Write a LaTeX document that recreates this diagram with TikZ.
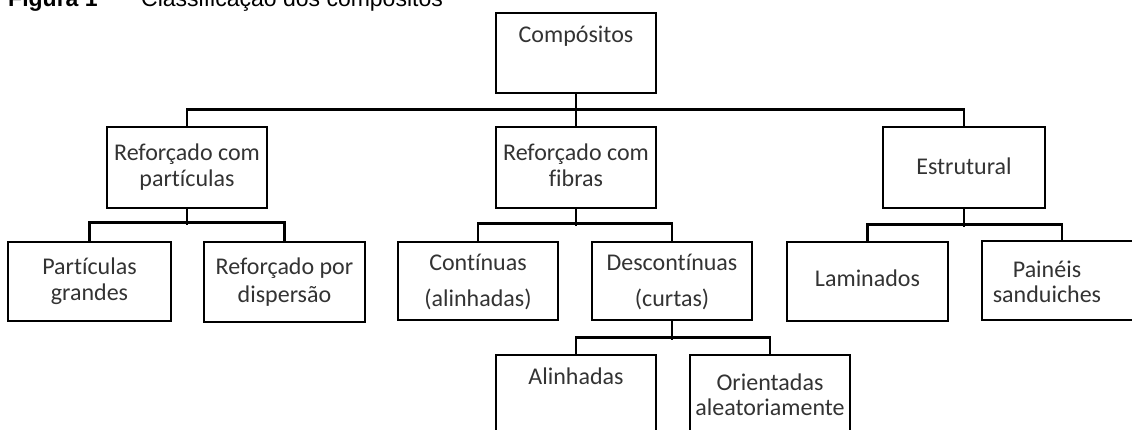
\documentclass[tikz,border=0pt]{standalone}
\usepackage{fontspec}
\setmainfont[Ligatures=NoCommon]{Carlito}
\newfontfamily\capfont{Liberation Sans}
\tikzset{
  box/.style={draw=black, line width=2.6pt, rectangle, inner sep=0pt, fill=none},
  txt/.style={anchor=base, inner sep=0pt, text=black!80, font=\fontsize{24}{28}\selectfont},
  captxt/.style={anchor=base west, inner sep=0pt, text=black, font=\capfont\fontsize{23}{27}\selectfont},
  link/.style={draw=black, line width=2.6pt}
}
\begin{document}
\begin{tikzpicture}[x=1pt,y=-1pt]
\useasboundingbox (0,0) rectangle (1132,430);
\clip (0,0) rectangle (1132,430);
% caption
\node[captxt] (figlabel) at (8,7) {\bfseries Figura 1};
\node[captxt] (figtitle) at (141,7) {Classificação dos compósitos};
% boxes
\node[box, minimum width=160pt, minimum height=80pt] (comp) at (576,53) {};
\node[box, minimum width=160pt, minimum height=81pt] (rp) at (187,167.5) {};
\node[box, minimum width=160pt, minimum height=81pt] (rf) at (576,167.5) {};
\node[box, minimum width=162pt, minimum height=81pt] (est) at (964,167.5) {};
\node[box, minimum width=163pt, minimum height=79pt] (pg) at (89.5,281.5) {};
\node[box, minimum width=161pt, minimum height=80pt] (rd) at (284.5,282) {};
\node[box, minimum width=160pt, minimum height=78pt] (ct) at (478,281) {};
\node[box, minimum width=160pt, minimum height=78pt] (dc) at (672,281) {};
\node[box, minimum width=161pt, minimum height=79pt] (lam) at (867.5,281.5) {};
\node[box, minimum width=160pt, minimum height=79pt] (pan) at (1062,280.5) {};
\node[box, minimum width=160pt, minimum height=85pt] (al) at (576,397.5) {};
\node[box, minimum width=160pt, minimum height=85pt] (or) at (770,397.5) {};
% texts
\node[txt] (t-comp) at (576,43) {Compósitos};
\node[txt] (t-rp1) at (187,161) {Reforçado com};
\node[txt] (t-rp2) at (187,187) {partículas};
\node[txt] (t-rf1) at (576,161) {Reforçado com};
\node[txt] (t-rf2) at (576,187) {fibras};
\node[txt] (t-est) at (964,175) {Estrutural};
\node[txt] (t-pg1) at (89.5,275) {Partículas};
\node[txt] (t-pg2) at (89.5,300) {grandes};
\node[txt] (t-rd1) at (284.5,275) {Reforçado por};
\node[txt] (t-rd2) at (284.5,302) {dispersão};
\node[txt] (t-ct1) at (478,271) {Contínuas};
\node[txt] (t-ct2) at (478,306) {(alinhadas)};
\node[txt] (t-dc1) at (672,271) {Descontínuas};
\node[txt] (t-dc2) at (672,306) {(curtas)};
\node[txt] (t-lam) at (867.5,287) {Laminados};
\node[txt] (t-pan1) at (1047,277) {Painéis};
\node[txt] (t-pan2) at (1047,302) {sanduiches};
\node[txt] (t-al) at (576,384) {Alinhadas};
\node[txt] (t-or1) at (770,390) {Orientadas};
\node[txt] (t-or2) at (770,415) {aleatoriamente};
% connectors
\draw[link] (comp.south) -- (rf.north);
\draw[link] (rp.north) -- ++(0,-16) -| (est.north);
\draw[link] (rp.south) -- ++(0,16);
\draw[link] (pg.north) -- ++(0,-18) -| (rd.north);
\draw[link] (rf.south) -- ++(0,17);
\draw[link] (ct.north) -- ++(0,-17) -| (dc.north);
\draw[link] (est.south) -- ++(0,18);
\draw[link] (lam.north) -- ++(0,-16) -| (pan.north);
\draw[link] (dc.south) -- ++(0,19);
\draw[link] (al.north) -- ++(0,-16) -| (or.north);
\end{tikzpicture}
\end{document}
